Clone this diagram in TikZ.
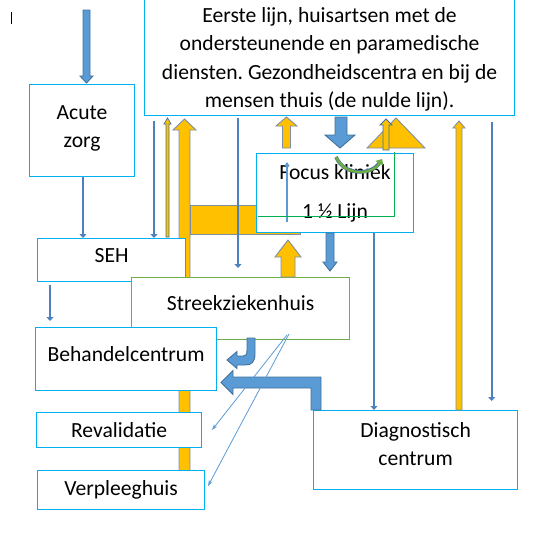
\documentclass[tikz,border=0pt]{standalone}
\usepackage{fontspec}
\setmainfont{Carlito}
\frenchspacing
\usetikzlibrary{arrows.meta}
\definecolor{boxcyan}{RGB}{0,176,240}
\definecolor{streekgreen}{RGB}{112,173,71}
\definecolor{framegreen}{RGB}{0,176,80}
\definecolor{arrowblue}{RGB}{91,155,213}
\definecolor{blueedge}{RGB}{65,113,156}
\definecolor{linkblue}{RGB}{78,128,190}
\definecolor{arrowyellow}{RGB}{255,192,0}
\definecolor{yellowedge}{RGB}{125,142,168}
\begin{document}
\begin{tikzpicture}[
    x=1pt, y=-1pt,
    box/.style={rectangle, draw=boxcyan, line width=1.2pt, fill=white, anchor=north west, align=center, inner sep=0pt,
      font=\fontsize{21.6}{28.5}\selectfont},
    yellowarrow/.style={fill=arrowyellow, draw=yellowedge, line width=0.9pt, line join=miter},
    bluearrow/.style={fill=arrowblue, draw=blueedge, line width=0.9pt, line join=miter},
    thinlink/.style={draw=linkblue, line width=2.2pt, -{Triangle[length=4pt, width=7pt]}},
    faintlink/.style={draw=arrowblue, line width=0.8pt, -{Stealth[length=6pt, width=4pt]}}
]
\useasboundingbox (0,0) rectangle (537,538);

% cursor mark
\draw[line width=1pt] (11.7,11.7) -- (11.7,24.3);

% yellow bent arrow behind the boxes
\filldraw[yellowarrow] (179,475) -- (179,130) -- (173,130) -- (184.5,119) -- (196,130) -- (190,130) -- (190,475) -- cycle;
\filldraw[yellowarrow] (190,205.5) rectangle (300,234);

% Boxes (an empty line with negative skip nudges the text up or down)
\node[box, minimum width=370pt, minimum height=120pt] (eerste) at (144,-5)
  {\strut\\[-25.5pt]Eerste lijn, huisartsen met de\\ondersteunende en paramedische\\diensten. Gezondheidscentra en bij de\\mensen thuis (de nulde lijn).};
\node[box, minimum width=105pt, minimum height=92pt] (acute) at (29,84) {Acute\\zorg\\[-20.5pt]};
\node[box, minimum width=148pt, minimum height=43pt] (seh) at (37,238) {SEH\\[-18.5pt]};
\node[box, draw=streekgreen, minimum width=218pt, minimum height=62pt] (streek) at (131,277) {Streekziekenhuis\\[-16.5pt]};
\node[box, minimum width=181pt, minimum height=63pt] (behandel) at (35,327) {Behandelcentrum\\[-18.5pt]};
\node[box, minimum width=165pt, minimum height=35pt] (reval) at (36,412) {Revalidatie};
\node[box, minimum width=167pt, minimum height=39pt] (verpleeg) at (37,470) {Verpleeghuis};
\node[box, minimum width=204pt, minimum height=79pt] (diag) at (313,410) {Diagnostisch\\centrum\\[-16.5pt]};
\node[box, minimum width=157pt, minimum height=79pt] (focus) at (256,153) {Focus kliniek\\[10pt]1 ½ Lijn};

% block arrows round the Focus kliniek
\filldraw[bluearrow] (83,10) -- (90,10) -- (90,76) -- (93,76) -- (86.5,83) -- (80,76) -- (83,76) -- cycle;
\filldraw[yellowarrow] (282.5,148) -- (282.5,126) -- (276,126) -- (286.5,117) -- (297,126) -- (290.5,126) -- (290.5,148) -- cycle;
\filldraw[bluearrow] (335,117) -- (347,117) -- (347,135) -- (355,135) -- (340,148) -- (325,135) -- (335,135) -- cycle;
\filldraw[yellowarrow] (367,148) -- (396,118) -- (425,148) -- cycle;
\filldraw[yellowarrow, draw=blueedge] (383,150) -- (383,125) -- (380,125) -- (386,119) -- (392,125) -- (389,125) -- (389,150) -- cycle;
\filldraw[bluearrow] (326,233) -- (334,233) -- (334,262) -- (337,262) -- (330,271) -- (323,262) -- (326,262) -- cycle;
\filldraw[yellowarrow] (281,277) -- (281,257) -- (275,257) -- (288,240) -- (301,257) -- (295,257) -- (295,277) -- cycle;

% thin links
\draw[thinlink] (acute.south -| 83,0) -- (83,0 |- seh.north);
\draw[thinlink, shorten <=3pt, shorten >=6pt] (50,0 |- seh.south) -- (50,0 |- behandel.north);
\draw[thinlink, shorten <=5pt] (154,0 |- eerste.south) -- (154,0 |- seh.north);
\filldraw[yellowarrow, draw=blueedge, line width=0.7pt] (166,237) -- (166,124) -- (164,124) -- (167.5,118) -- (171,124) -- (169,124) -- (169,237) -- cycle;
\draw[thinlink, shorten <=2pt, shorten >=9pt] (238,0 |- eerste.south) -- (238,0 |- streek.north);
\draw[thinlink] (374,0 |- focus.south) -- (374,0 |- diag.north);
\draw[thinlink, shorten <=6pt, shorten >=9pt] (491.7,0 |- eerste.south) -- (491.7,0 |- diag.north);
\filldraw[yellowarrow] (456,410) -- (456,128) -- (453,128) -- (459,121) -- (465,128) -- (462,128) -- (462,410) -- cycle;
\draw[draw=arrowblue, line width=1.6pt, -{Triangle[length=4pt, width=5pt]}] (287,222) -- (287,162);

% frame and curved arrow in the Focus kliniek
\draw[framegreen, line width=1pt] (258,216) -- (394,216) -- (394,152);
\draw[blueedge, line width=3.6pt] (336,157) .. controls (344,176) and (372,176) .. (380,162);
\draw[streekgreen, line width=2.4pt, -{Triangle[length=5pt, width=9pt]}] (336,157) .. controls (344,176) and (372,176) .. (382,159);

% arrows towards the Behandelcentrum
\filldraw[bluearrow] (255,338) -- (255,353) .. controls (255,362) and (252,365) .. (245,365) -- (237,365) -- (237,368.5) -- (227,360) -- (237,351.5) -- (237,356) -- (243,356) .. controls (246,356) and (247,355) .. (247,350) -- (247,338) -- cycle;
\filldraw[bluearrow] (321,410) -- (321,377) -- (233,377) -- (233,370.5) -- (221,382.5) -- (233,394.5) -- (233,388) -- (311,388) -- (311,410) -- cycle;

% fan from the Streekziekenhuis
\draw[faintlink] (287,335) -- (212,430);
\draw[faintlink] (289,334) -- (208,486);

\end{tikzpicture}
\end{document}
